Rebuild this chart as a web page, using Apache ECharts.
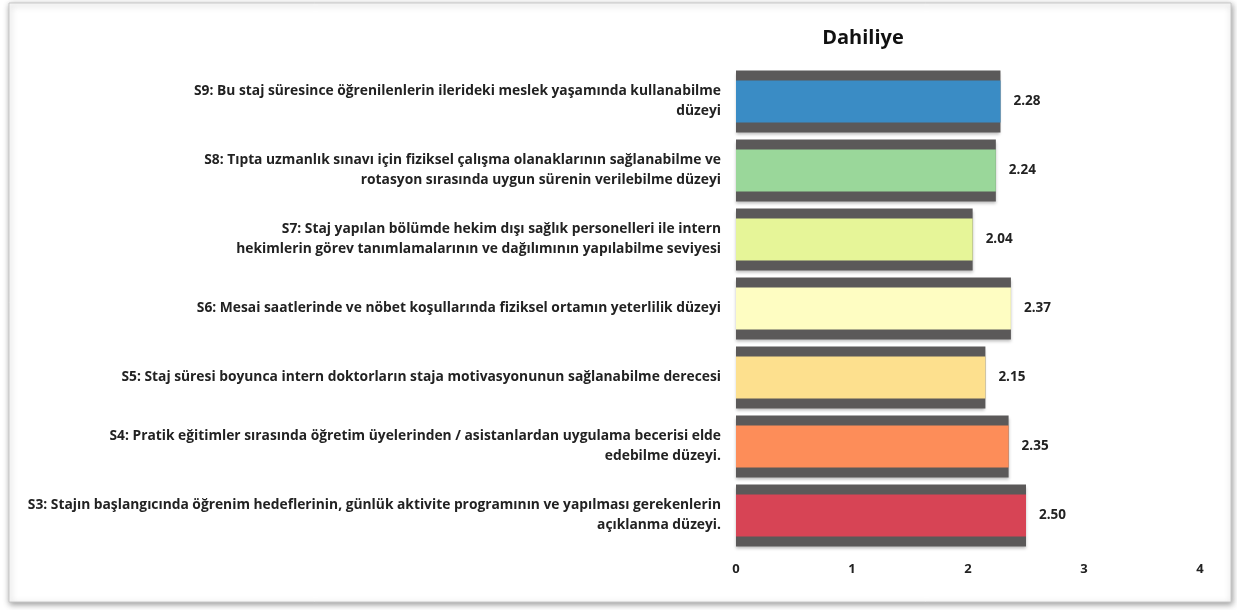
<!DOCTYPE html>
<html>
<head>
<meta charset="utf-8">
<script src="https://cdn.jsdelivr.net/npm/echarts@6/dist/echarts.min.js"></script>
<style>
html, body { margin: 0; padding: 0; background: #fff; }
#chart { width: 1237px; height: 610px; }
</style>
</head>
<body>
<div id="chart"></div>
<script>
var categories = [
    'S9: Bu staj süresince öğrenilenlerin ilerideki meslek yaşamında kullanabilme\ndüzeyi',
    'S8: Tıpta uzmanlık sınavı için fiziksel çalışma olanaklarının sağlanabilme ve\nrotasyon sırasında uygun sürenin verilebilme düzeyi',
    'S7: Staj yapılan bölümde hekim dışı sağlık personelleri ile intern\nhekimlerin görev tanımlamalarının ve dağılımının yapılabilme seviyesi',
    'S6: Mesai saatlerinde ve nöbet koşullarında fiziksel ortamın yeterlilik düzeyi',
    'S5: Staj süresi boyunca intern doktorların staja motivasyonunun sağlanabilme derecesi',
    'S4: Pratik eğitimler sırasında öğretim üyelerinden / asistanlardan uygulama becerisi elde\nedebilme düzeyi.',
    'S3: Stajın başlangıcında öğrenim hedeflerinin, günlük aktivite programının ve yapılması gerekenlerin\naçıklanma düzeyi.'
];
var values = [2.28, 2.24, 2.04, 2.37, 2.15, 2.35, 2.50];
var barColors = ['#3a8cc5', '#9ad79a', '#e6f598', '#fefdc2', '#fde08e', '#fd8d59', '#d74455'];

var chart = echarts.init(document.getElementById('chart'));

var colored = [];
for (var i = 0; i < values.length; i++) {
    colored.push({ value: values[i], itemStyle: { color: barColors[i] } });
}

var font = 'Open Sans';

var option = {
    backgroundColor: '#ffffff',
    animation: false,
    title: {
        text: 'Dahiliye',
        left: 858,
        textAlign: 'center',
        top: 23,
        textStyle: { fontFamily: font, fontWeight: 'bold', fontSize: 20, color: '#111' }
    },
    graphic: [{
        type: 'rect',
        z: -10,
        shape: { x: 9, y: 3, width: 1222, height: 599 },
        style: {
            fill: '#fff', stroke: '#c8c8c8', lineWidth: 1,
            shadowBlur: 6, shadowColor: 'rgba(0,0,0,0.4)', shadowOffsetX: 1, shadowOffsetY: 2
        }
    }],
    grid: { left: 736, top: 67, width: 464, height: 483 },
    xAxis: {
        type: 'value',
        min: 0,
        max: 4,
        interval: 1,
        axisLine: { show: false },
        axisTick: { show: false },
        splitLine: { show: false },
        axisLabel: { margin: 13, fontFamily: font, fontWeight: 'bold', fontSize: 13, color: '#222' }
    },
    yAxis: [{
        type: 'category',
        inverse: true,
        data: categories,
        axisLine: { show: false },
        axisTick: { show: false },
        axisLabel: {
            margin: 15,
            align: 'right',
            lineHeight: 20,
            fontFamily: font,
            fontWeight: 'bold',
            fontSize: 13.8,
            color: '#222'
        }
    }, {
        type: 'category',
        inverse: true,
        data: categories,
        show: false
    }],
    series: [{
        type: 'bar',
        data: values,
        yAxisIndex: 0,
        barWidth: 62,
        silent: true,
        itemStyle: {
            color: '#5b5959',
            shadowBlur: 3, shadowColor: 'rgba(0,0,0,0.25)', shadowOffsetY: 2
        }
    }, {
        type: 'bar',
        data: colored,
        yAxisIndex: 1,
        barWidth: 42,
        label: {
            show: true,
            position: 'right',
            distance: 13,
            formatter: function (p) { return p.value.toFixed(2); },
            fontFamily: font,
            fontWeight: 'bold',
            fontSize: 13.5,
            color: '#222'
        }
    }]
};

chart.setOption(option);
</script>
</body>
</html>
